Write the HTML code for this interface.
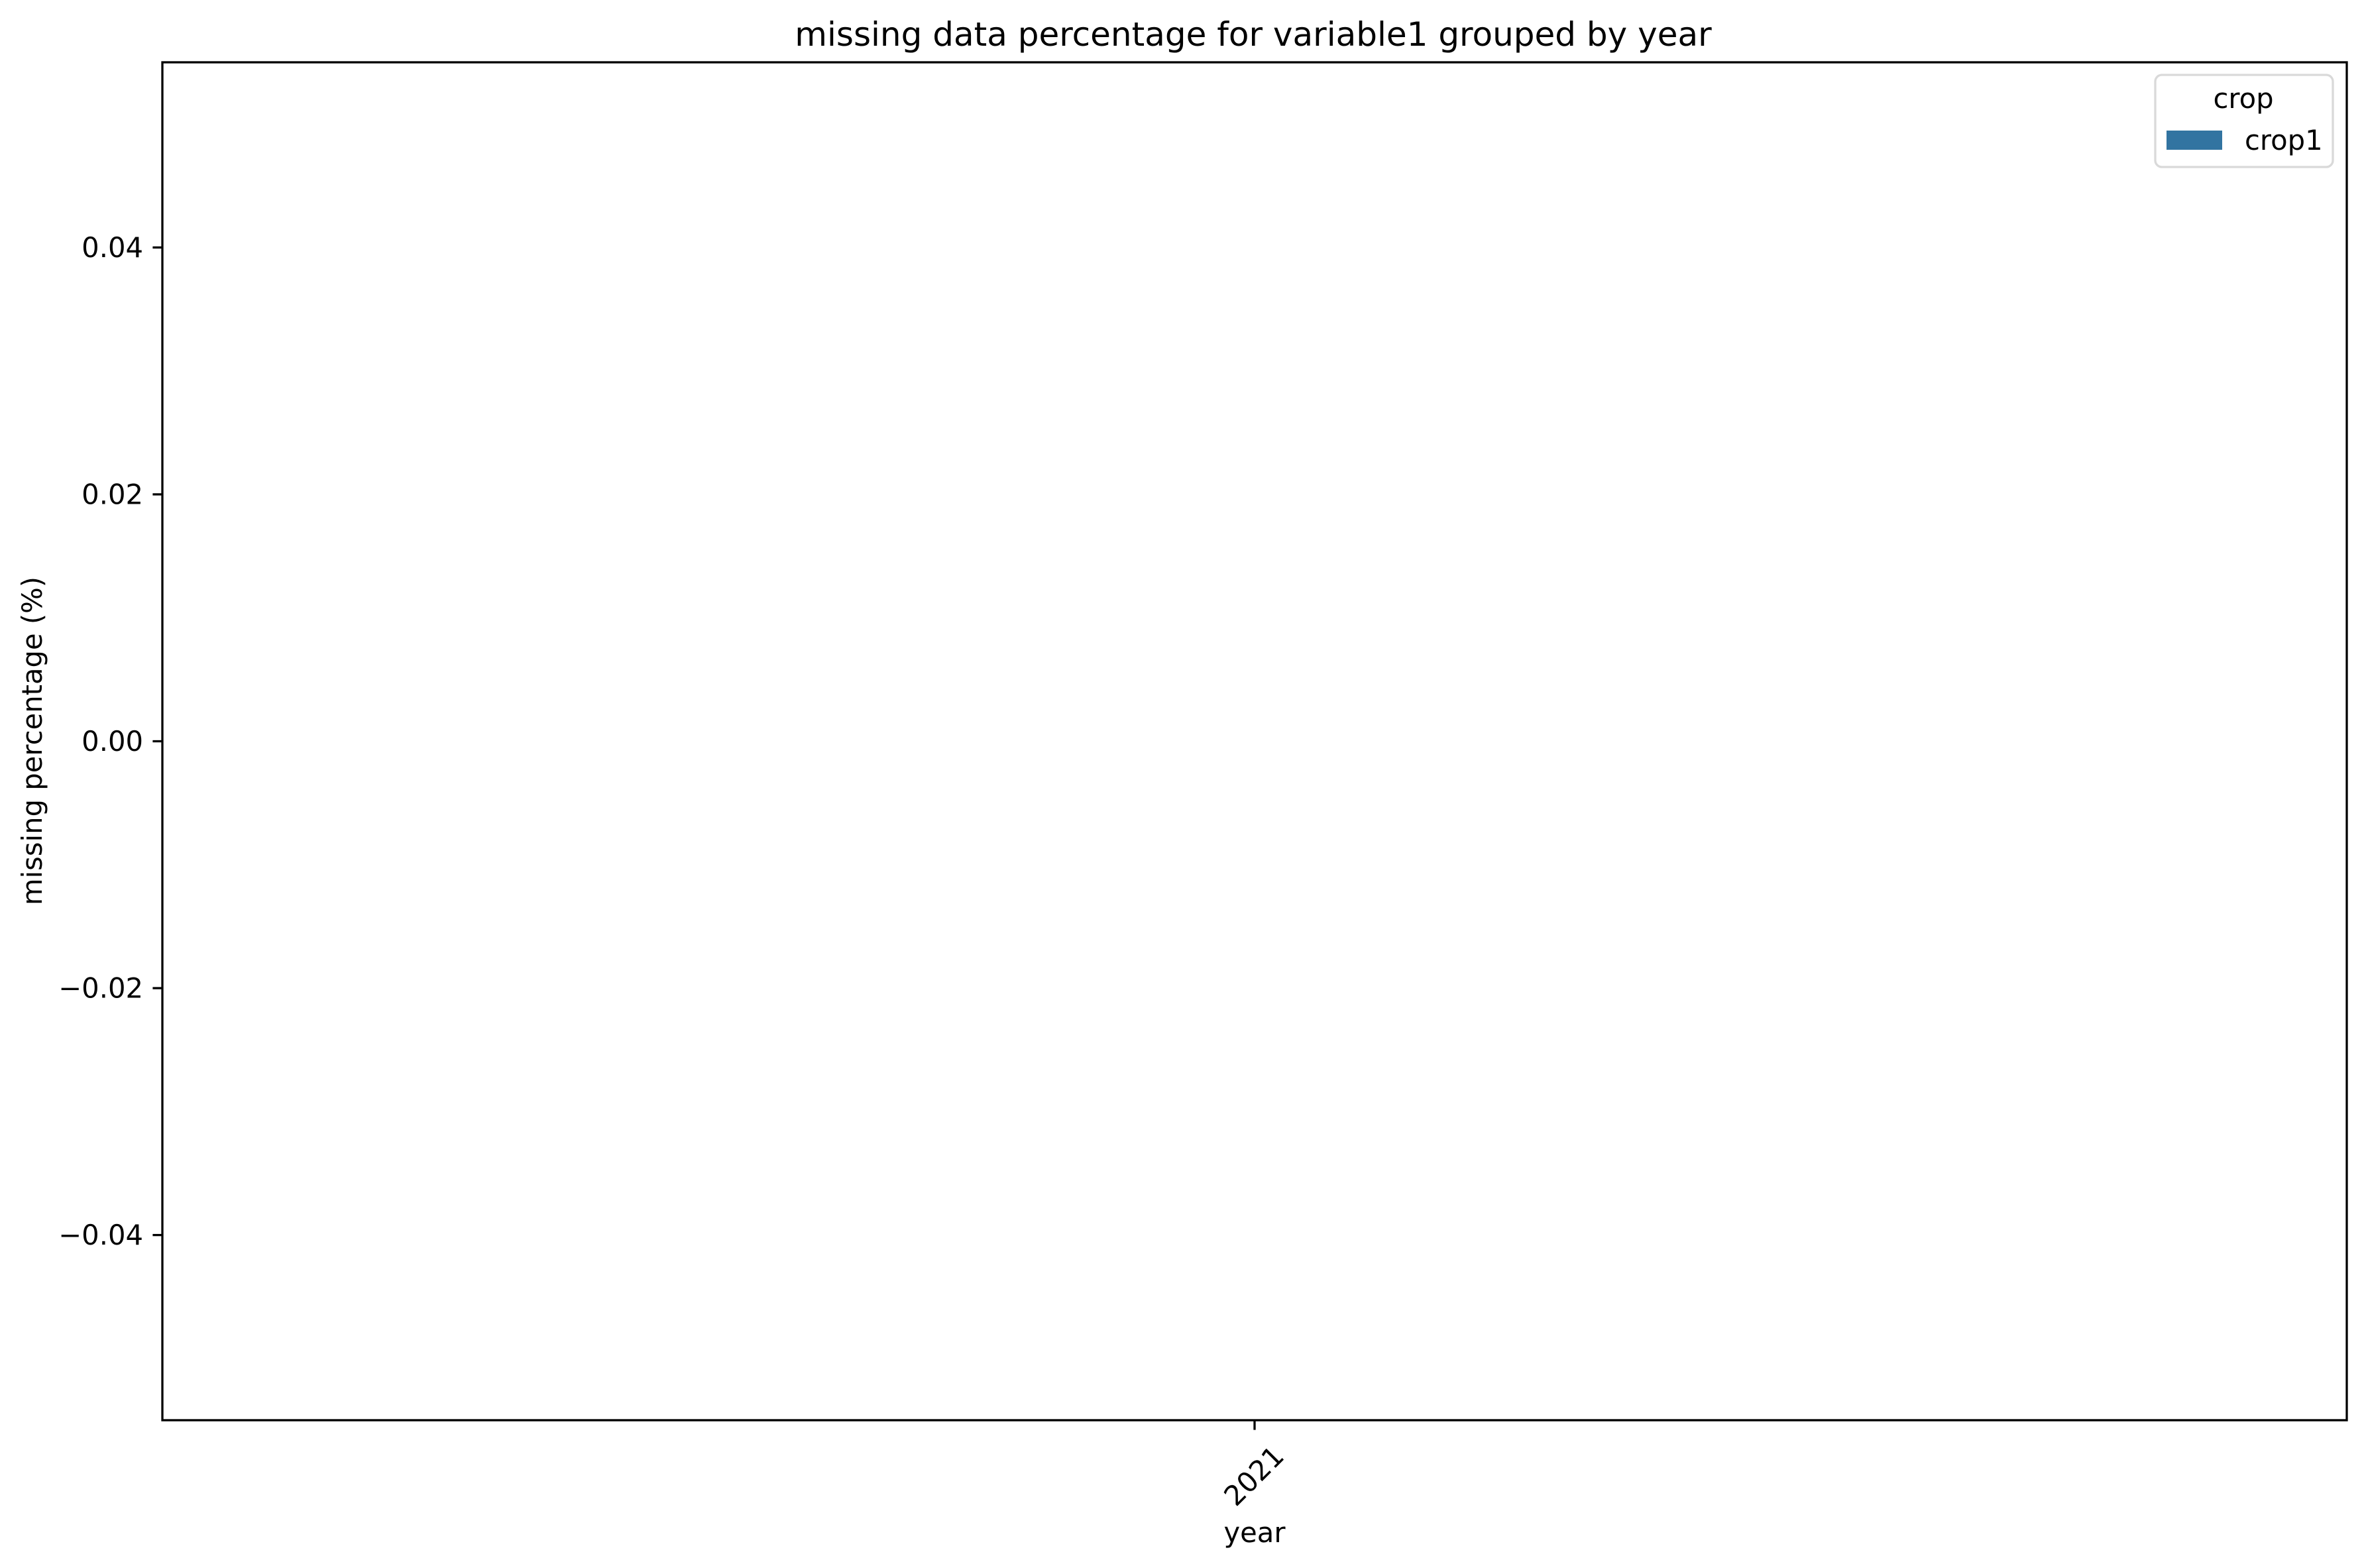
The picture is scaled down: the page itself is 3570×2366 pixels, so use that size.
<!DOCTYPE html>
<html><head><meta charset="utf-8"><style>html,body{margin:0;padding:0;background:#fff}svg{display:block}text{font-family:"DejaVu Sans","Liberation Sans",sans-serif;fill:#000}</style></head>
<body>
<svg id="chart" width="3570" height="2366" viewBox="0 0 3570 2366" xmlns="http://www.w3.org/2000/svg">
<rect width="3570" height="2366" fill="#fff"/>
<text x="1891" y="69" font-size="50" text-anchor="middle">missing data percentage for variable1 grouped by year</text>
<g id="plot"></g>
<text transform="translate(63,1118) rotate(-90)" font-size="41.7" text-anchor="middle">missing percentage (%)</text>
<text x="1893" y="2327" font-size="41.7" text-anchor="middle">year</text>
<g>
<rect x="3252" y="113" width="268" height="139" rx="10" fill="#fff" stroke="#d9d9d9" stroke-width="3.3"/>
<text x="3385" y="163" font-size="41.7" text-anchor="middle">crop</text>
<rect x="3269" y="197" width="84" height="29" fill="#3274a1"/>
<text x="3387" y="226" font-size="41.7">crop1</text>
</g>
</svg>
<script>
const categories = ["2021"];
const values = [0];
const yTicks = [-0.04, -0.02, 0.00, 0.02, 0.04];
const yTickLabels = ["\u22120.04", "\u22120.02", "0.00", "0.02", "0.04"];
const yDomain = [-0.055, 0.055];

const L = 245, R = 3541, T = 94, B = 2143;
const NS = "http://www.w3.org/2000/svg";
const g = document.getElementById('plot');
function y(v){ return B - (v - yDomain[0]) / (yDomain[1] - yDomain[0]) * (B - T); }
function x(i){ return L + (i + 0.5) * (R - L) / categories.length; }
function mk(tag, attrs){ const e = document.createElementNS(NS, tag); for (const k in attrs) e.setAttribute(k, attrs[k]); g.appendChild(e); return e; }

const bw = (R - L) / categories.length * 0.8;
values.forEach((v, i) => {
  const r = mk('rect', {x: x(i) - bw/2, y: Math.min(y(v), y(0)), width: bw, height: Math.abs(y(v) - y(0)), fill: '#3274a1'});
  
  
});

yTicks.forEach((t, i) => {
  const ln = mk('line', {x1: L - 14.6, x2: L, y1: y(t), y2: y(t), stroke: '#000', 'stroke-width': 3.3});
  
  
  const tx = mk('text', {x: L - 29, y: y(t), 'font-size': 41.7, 'text-anchor': 'end', 'dominant-baseline': 'central'});
  tx.textContent = yTickLabels[i];
  
  
});

categories.forEach((c, i) => {
  const ln = mk('line', {x1: x(i), x2: x(i), y1: B, y2: B + 14.6, stroke: '#000', 'stroke-width': 3.3});
  
  
  const tx = mk('text', {x: 0, y: 0, 'font-size': 41.7, 'text-anchor': 'middle', 'dominant-baseline': 'central', transform: 'translate(' + (x(i) - 1) + ',' + (B + 84) + ') rotate(-45)'});
  tx.textContent = c;
  
  
});

const frame = mk('rect', {x: L, y: T, width: R - L, height: B - T, fill: 'none', stroke: '#000', 'stroke-width': 3.3});


</script>
</body></html>
